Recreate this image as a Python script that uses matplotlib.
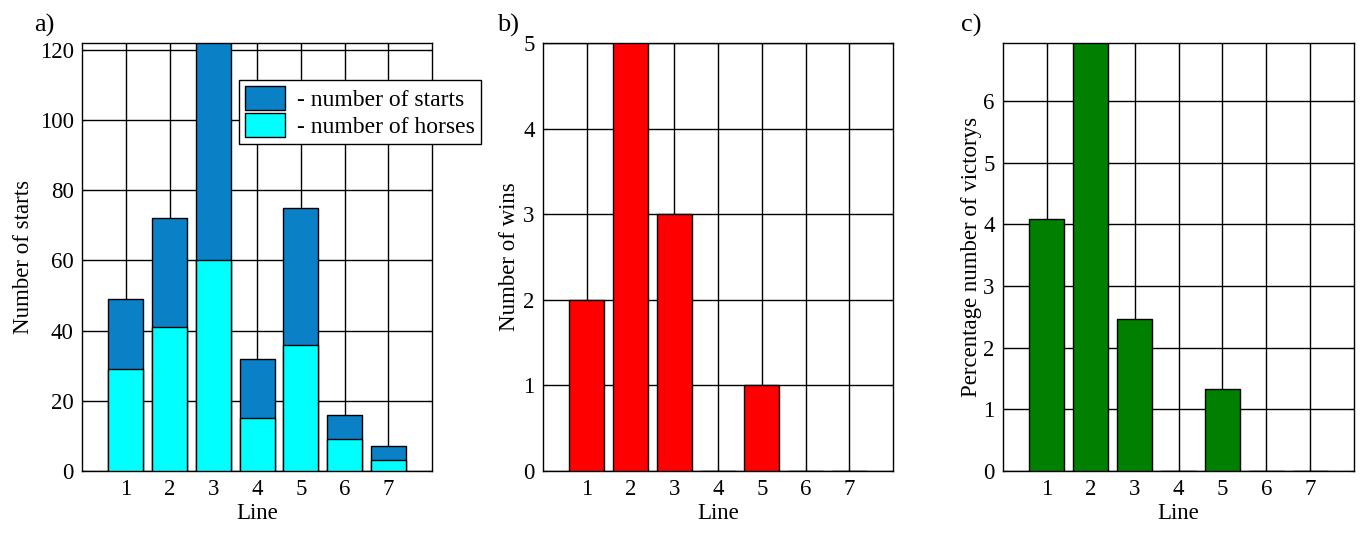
import numpy as np
import matplotlib
matplotlib.use('Agg')
from matplotlib import pyplot as plt

lines = [1, 2, 3, 4, 5, 6, 7]
starts = [49, 72, 122, 32, 75, 16, 7]
horses = [29, 41, 60, 15, 36, 9, 3]
wins = [2, 5, 3, 0, 1, 0, 0]
pct_victories = [4.08, 6.94, 2.46, 0, 1.33, 0, 0]

plt.rcParams['font.family'] = ['Liberation Serif', 'DejaVu Serif']
plt.rcParams['font.size'] = 16

fig = plt.figure(figsize=(13.61, 5.46), dpi=100)
ax_a = fig.add_axes([0.0603, 0.1374, 0.2572, 0.7839])
ax_b = fig.add_axes([0.3990, 0.1374, 0.2572, 0.7839])
ax_c = fig.add_axes([0.7370, 0.1374, 0.2579, 0.7839])


def style(ax, ymax, yticks):
    ax.set_xlim(0, 8)
    ax.set_ylim(0, ymax)
    ax.set_xticks(lines)
    ax.set_yticks(yticks)
    ax.grid(True, color='black', linewidth=1.0)
    ax.set_axisbelow(True)
    ax.tick_params(direction='in', length=3, top=True, right=True, labelsize=16.5, pad=6)
    for s in ax.spines.values():
        s.set_linewidth(1.0)
    ax.set_xlabel('Line', fontsize=16.5, labelpad=2)


# a) stacked bars
b1 = ax_a.bar(lines, starts, width=0.8, color='#0A80C6', edgecolor='black', linewidth=1, zorder=3)
b2 = ax_a.bar(lines, horses, width=0.8, color='#00FFFF', edgecolor='black', linewidth=1, zorder=3)
style(ax_a, 122, [0, 20, 40, 60, 80, 100, 120])
ax_a.set_ylabel('Number of starts', fontsize=16.5, labelpad=4)
leg = ax_a.legend([b1, b2], ['- number of starts', '- number of horses'],
                  loc='upper left', bbox_to_anchor=(0.449, 0.913), fancybox=False,
                  edgecolor='black', framealpha=1, fontsize=17,
                  handlelength=1.7, handleheight=1.15, borderpad=0.25, labelspacing=0.1,
                  handletextpad=0.5, borderaxespad=0)
leg.get_frame().set_linewidth(1.0)
leg.set_zorder(5)

# b) wins
ax_b.bar(lines, wins, width=0.8, color='#FF0000', edgecolor='black', linewidth=1, zorder=3)
style(ax_b, 5, [0, 1, 2, 3, 4, 5])
ax_b.set_ylabel('Number of wins', fontsize=16.5, labelpad=2)

# c) percentage of victories
ax_c.bar(lines, pct_victories, width=0.8, color='#007F00', edgecolor='black', linewidth=1, zorder=3)
style(ax_c, 6.94, [0, 1, 2, 3, 4, 5, 6])
ax_c.set_ylabel('Percentage number of victorys', fontsize=16.5, labelpad=1)

fig.text(0.025, 0.942, 'a)', fontsize=19)
fig.text(0.365, 0.942, 'b)', fontsize=19)
fig.text(0.706, 0.942, 'c)', fontsize=19)

fig.savefig('out.png', dpi=100)
